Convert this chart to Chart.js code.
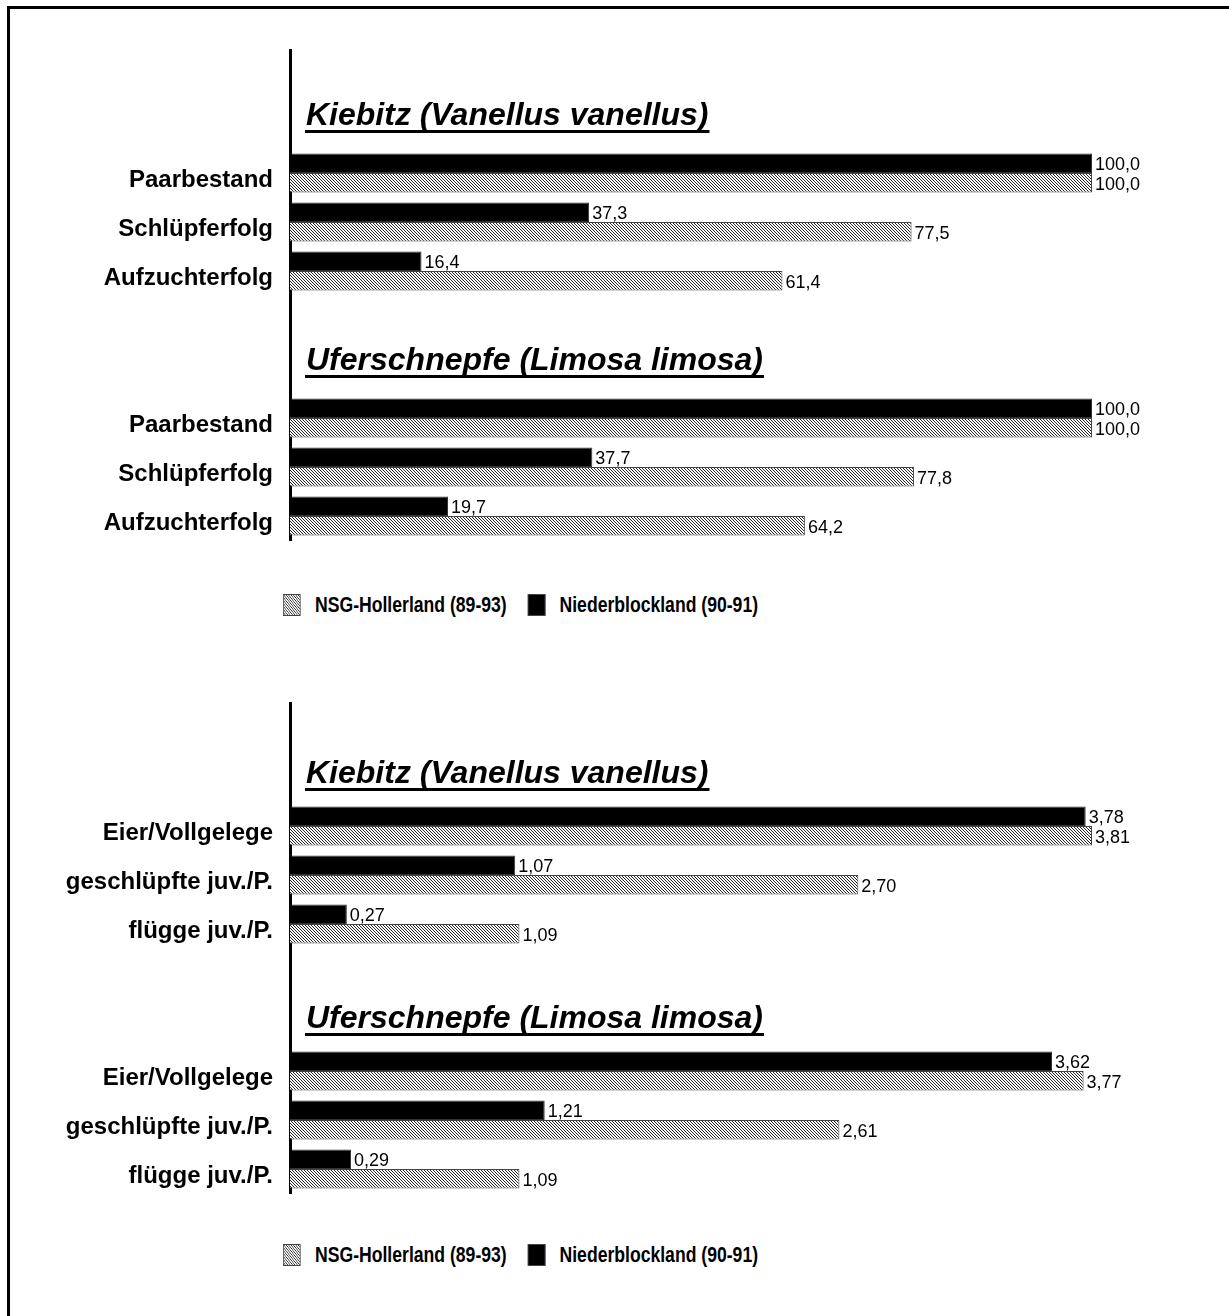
<!DOCTYPE html>
<html>
<head>
<meta charset="utf-8">
<script src="https://cdn.jsdelivr.net/npm/chart.js@4"></script>
<style>
  body { margin: 0; background: #fff; overflow: hidden; }
  #page { position: relative; width: 1229px; height: 1316px; overflow: hidden; }
  #frame { position: absolute; left: 7px; top: 6px; width: 1300px; height: 1400px;
           border-left: 3px solid #000; border-top: 3px solid #000; }
  canvas { position: absolute; left: 0; }
  /* the original legend text is a slightly condensed bold face */
  .legend { position: absolute; left: 283px; display: flex; align-items: center; white-space: nowrap;
            transform: scaleX(0.8); transform-origin: left center;
            font: bold 22px 'Liberation Sans', Arial, sans-serif; color: #000; }
  .legend span { display: inline-flex; align-items: center; margin-right: 26px; }
  .legend i { display: inline-block; width: 22px; height: 22px; border: 1px solid #444;
              margin-right: 18px; box-sizing: border-box; }
</style>
</head>
<body>
<div id="page">
  <div id="frame"></div>
  <canvas id="topChart" width="1229" height="580" style="top:0"></canvas>
  <div class="legend" id="topLegend" style="top:592px"></div>
  <canvas id="bottomChart" width="1229" height="580" style="top:653px"></canvas>
  <div class="legend" id="bottomLegend" style="top:1242px"></div>
</div>
<script>
const speciesTitles = ['Kiebitz (Vanellus vanellus)', 'Uferschnepfe (Limosa limosa)'];
const seriesNames = ['Niederblockland (90-91)', 'NSG-Hollerland (89-93)'];
const topCategories = ['Paarbestand', 'Schlüpferfolg', 'Aufzuchterfolg'];
const bottomCategories = ['Eier/Vollgelege', 'geschlüpfte juv./P.', 'flügge juv./P.'];
// percentages, Kiebitz first then Uferschnepfe
const topNieder = [100.0, 37.3, 16.4, 100.0, 37.7, 19.7];
const topHoller = [100.0, 77.5, 61.4, 100.0, 77.8, 64.2];
// values per clutch / pair
const bottomNieder = [3.78, 1.07, 0.27, 3.62, 1.21, 0.29];
const bottomHoller = [3.81, 2.70, 1.09, 3.77, 2.61, 1.09];

const FONT = "'Liberation Sans', Arial, sans-serif";

// two empty slots before each species group leave room for the title
function padLabels(cats) {
  return ['', ''].concat(cats, ['', ''], cats);
}
function padValues(vals) {
  return [null, null].concat(vals.slice(0, 3), [null, null], vals.slice(3));
}

// fine "\" hatching for the NSG bars
function hatchCanvas() {
  var c = document.createElement('canvas');
  c.width = 3; c.height = 3;
  var x = c.getContext('2d');
  x.fillStyle = '#fff';
  x.fillRect(0, 0, 3, 3);
  x.fillStyle = '#222';
  for (var i = 0; i < 3; i++) x.fillRect(i, i, 1, 1);
  return c;
}
const hatchTile = hatchCanvas();

const valueLabels = {
  id: 'valueLabels',
  afterDatasetsDraw(chart, args, opts) {
    var ctx = chart.ctx;
    ctx.save();
    ctx.font = '18px ' + FONT;
    ctx.fillStyle = '#000';
    ctx.textAlign = 'left';
    ctx.textBaseline = 'middle';
    chart.data.datasets.forEach(function (ds, di) {
      chart.getDatasetMeta(di).data.forEach(function (bar, i) {
        var v = ds.data[i];
        if (v === null) return;
        ctx.fillText(v.toFixed(opts.decimals).replace('.', ','), bar.x + 3, bar.y + 2);
      });
    });
    ctx.restore();
  }
};

const groupTitles = {
  id: 'groupTitles',
  afterDraw(chart, args, opts) {
    var ctx = chart.ctx;
    var y = chart.scales.y;
    ctx.save();
    ctx.font = 'italic bold 32px ' + FONT;
    ctx.fillStyle = '#000';
    ctx.textBaseline = 'middle';
    speciesTitles.forEach(function (t, g) {
      var ty = y.getPixelForValue(g * 5 + 2) + opts.offset;
      var tx = chart.chartArea.left + 16;
      ctx.fillText(t, tx, ty);
      var w = ctx.measureText(t).width;
      ctx.fillRect(tx - 1, ty + 14, w + 2, 3);
    });
    ctx.restore();
  }
};

function makeChart(id, cats, nieder, holler, xMax, decimals, titleOffset) {
  var ctx = document.getElementById(id).getContext('2d');
  var hatch = ctx.createPattern(hatchTile, 'repeat');
  return new Chart(ctx, {
    type: 'bar',
    data: {
      labels: padLabels(cats),
      datasets: [
        {
          label: seriesNames[0],
          backgroundColor: '#000',
          borderColor: '#333',
          borderWidth: 1,
          data: padValues(nieder),
        },
        {
          label: seriesNames[1],
          backgroundColor: hatch,
          borderColor: '#444',
          borderWidth: 1,
          data: padValues(holler),
        },
      ],
    },
    options: {
      indexAxis: 'y',
      responsive: false,
      animation: false,
      devicePixelRatio: 1,
      categoryPercentage: 0.8,
      barPercentage: 1.0,
      layout: { padding: { left: 0, right: 137, top: 50.5, bottom: 39.5 } },
      scales: {
        x: { display: false, min: 0, max: xMax },
        y: {
          grid: { display: false, drawTicks: false },
          border: { display: true, color: '#000', width: 3 },
          ticks: {
            autoSkip: false,
            padding: 17,
            labelOffset: 7,
            color: '#000',
            font: { family: FONT, size: 24, weight: 'bold' },
          },
          afterFit(scale) { scale.width = 290; },
        },
      },
      plugins: {
        legend: { display: false },
        tooltip: { enabled: false },
        valueLabels: { decimals: decimals },
        groupTitles: { offset: titleOffset },
      },
    },
    plugins: [valueLabels, groupTitles],
  });
}

// legend lists the hatched series first, like the original
function htmlLegend(chart, elId) {
  var box = document.getElementById(elId);
  var hatchUrl = hatchTile.toDataURL();
  chart.data.datasets.slice().reverse().forEach(function (ds) {
    var item = document.createElement('span');
    var sw = document.createElement('i');
    if (typeof ds.backgroundColor === 'string') sw.style.background = ds.backgroundColor;
    else sw.style.backgroundImage = 'url(' + hatchUrl + ')';
    item.appendChild(sw);
    item.appendChild(document.createTextNode(ds.label));
    box.appendChild(item);
  });
}

var topChart = makeChart('topChart', topCategories, topNieder, topHoller, 100, 1, -57);
var bottomChart = makeChart('bottomChart', bottomCategories, bottomNieder, bottomHoller, 3.81, 2, -52);
htmlLegend(topChart, 'topLegend');
htmlLegend(bottomChart, 'bottomLegend');
</script>
</body>
</html>
